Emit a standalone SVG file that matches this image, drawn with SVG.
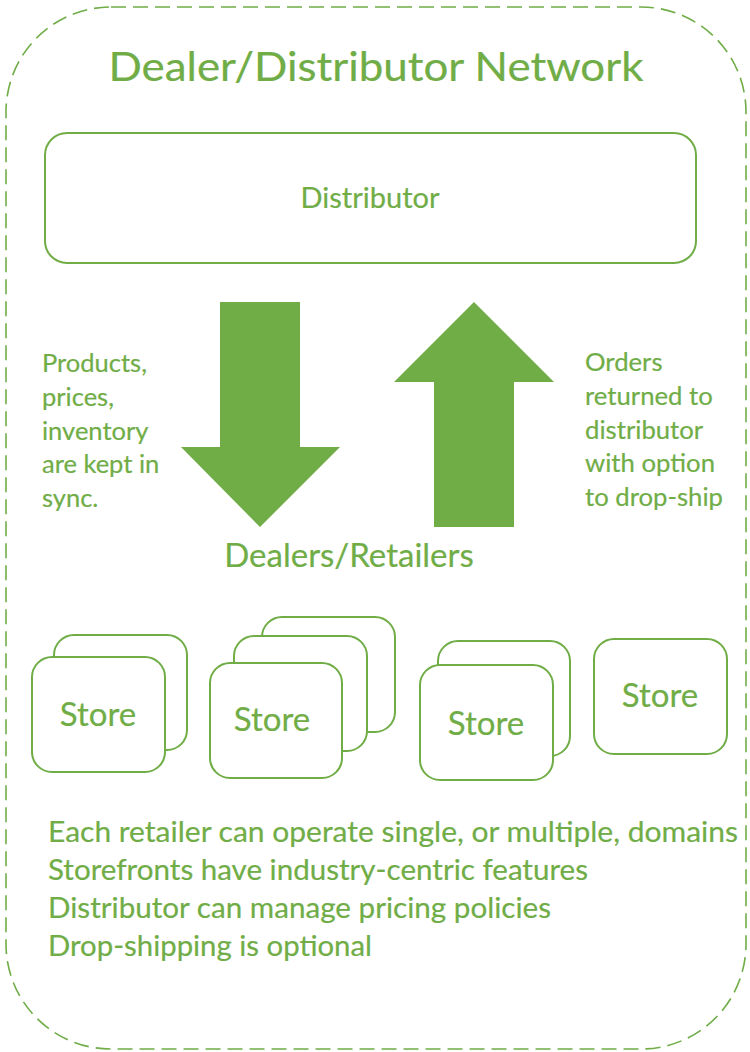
<svg xmlns="http://www.w3.org/2000/svg" width="750" height="1052" viewBox="0 0 750 1052">
  <style>
    .lbl { font-family: Lato, "Liberation Sans", sans-serif; fill: #70AD47; stroke: #70AD47; stroke-width: 0.2; }
    .box { fill: #FFFFFF; stroke: #70AD47; stroke-width: 2; }
    .flow { fill: #70AD47; }
  </style>
  <rect width="750" height="1052" fill="#FFFFFF"/>

  <!-- network boundary -->
  <g id="network">
    <rect x="6" y="7" width="740" height="1042" rx="105" ry="105" fill="none" stroke="#70AD47" stroke-width="1.6" stroke-dasharray="15 7"/>
    <text class="lbl" x="376" y="81" font-size="40" text-anchor="middle" textLength="535" lengthAdjust="spacingAndGlyphs">Dealer/Distributor Network</text>
  </g>

  <g id="distributor">
    <rect class="box" x="45" y="133" width="651" height="130" rx="22" ry="22"/>
    <text class="lbl" x="370" y="208" font-size="29" text-anchor="middle">Distributor</text>
  </g>

  <!-- flow arrows between distributor and retailers -->
  <g id="connectors">
    <polygon class="flow" points="220,302 300,302 300,447 340,447 260,527 181,447 220,447"/>
    <polygon class="flow" points="474,302 554,382 514,382 514,527 434,527 434,382 394,382"/>
  </g>

  <g id="sync-note">
    <text class="lbl" font-size="25.5">
      <tspan x="42" y="372">Products,</tspan>
      <tspan x="42" y="406">prices,</tspan>
      <tspan x="42" y="440">inventory</tspan>
      <tspan x="42" y="473">are kept in</tspan>
      <tspan x="42" y="507">sync.</tspan>
    </text>
  </g>

  <g id="orders-note">
    <text class="lbl" font-size="25.7">
      <tspan x="585" y="371">Orders</tspan>
      <tspan x="585" y="405">returned to</tspan>
      <tspan x="585" y="439">distributor</tspan>
      <tspan x="585" y="472">with option</tspan>
      <tspan x="585" y="506">to drop-ship</tspan>
    </text>
  </g>

  <g id="retailers">
    <text class="lbl" x="349" y="567" font-size="33" text-anchor="middle">Dealers/Retailers</text>
  </g>

  <!-- retailer storefronts -->
  <g id="store-1">
    <rect class="box" x="54" y="635" width="133" height="115" rx="20" ry="20"/>
    <rect class="box" x="32" y="657" width="133" height="115" rx="20" ry="20"/>
    <text class="lbl" x="98" y="726" font-size="33" text-anchor="middle">Store</text>
  </g>

  <g id="store-2">
    <rect class="box" x="262" y="617" width="133" height="115" rx="20" ry="20"/>
    <rect class="box" x="234" y="636" width="133" height="115" rx="20" ry="20"/>
    <rect class="box" x="210" y="663" width="132" height="115" rx="20" ry="20"/>
    <text class="lbl" x="272" y="731" font-size="33" text-anchor="middle">Store</text>
  </g>

  <g id="store-3">
    <rect class="box" x="438" y="641" width="132" height="115" rx="20" ry="20"/>
    <rect class="box" x="420" y="665" width="133" height="115" rx="20" ry="20"/>
    <text class="lbl" x="486" y="735" font-size="33" text-anchor="middle">Store</text>
  </g>

  <g id="store-4">
    <rect class="box" x="594" y="639" width="133" height="115" rx="20" ry="20"/>
    <text class="lbl" x="660" y="707" font-size="33" text-anchor="middle">Store</text>
  </g>

  <g id="features">
    <text class="lbl" font-size="29.5">
      <tspan x="48" y="842" textLength="690" lengthAdjust="spacingAndGlyphs">Each retailer can operate single, or multiple, domains</tspan>
      <tspan x="48" y="880" textLength="540" lengthAdjust="spacingAndGlyphs">Storefronts have industry-centric features</tspan>
      <tspan x="48" y="918" textLength="503" lengthAdjust="spacingAndGlyphs">Distributor can manage pricing policies</tspan>
      <tspan x="48" y="956" textLength="324" lengthAdjust="spacingAndGlyphs">Drop-shipping is optional</tspan>
    </text>
  </g>
</svg>
